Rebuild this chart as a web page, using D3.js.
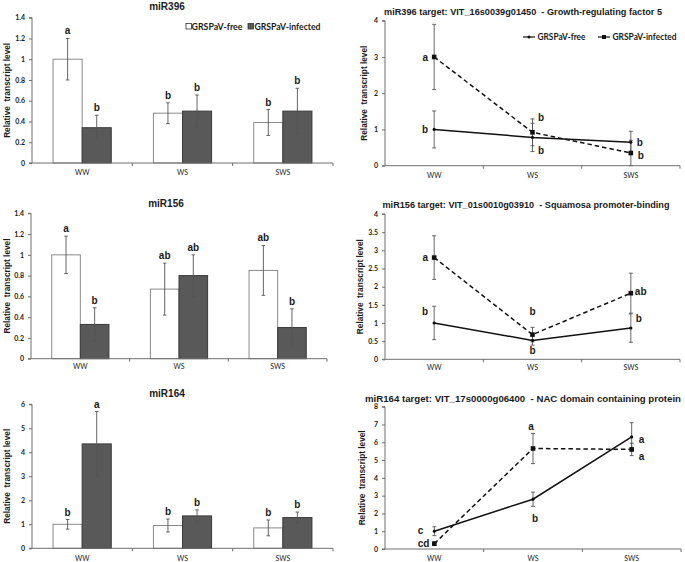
<!DOCTYPE html>
<html><head><meta charset="utf-8">
<script src="https://cdn.jsdelivr.net/npm/d3@7"></script>
<style>body{margin:0;background:#fff} svg{display:block}</style>
</head><body>
<svg id="c" width="685" height="562"></svg>
<script>
// ---------------- DATA ----------------
const categories = ["WW", "WS", "SWS"];
const seriesNames = ["GRSPaV-free", "GRSPaV-infected"];
const yAxisTitle = "Relative  transcript level";

// miR396 (bars)
const miR396Free = [1.00, 0.48, 0.39];
const miR396FreeErr = [0.20, 0.10, 0.125];
const miR396Infected = [0.34, 0.50, 0.50];
const miR396InfectedErr = [0.12, 0.155, 0.22];
const miR396FreeLetters = ["a", "b", "b"];
const miR396InfectedLetters = ["b", "b", "b"];
const miR396Ticks = [0, 0.2, 0.4, 0.6, 0.8, 1, 1.2, 1.4];

// miR156 (bars)
const miR156Free = [1.00, 0.67, 0.85];
const miR156FreeErr = [0.18, 0.25, 0.24];
const miR156Infected = [0.33, 0.80, 0.30];
const miR156InfectedErr = [0.16, 0.20, 0.18];
const miR156FreeLetters = ["a", "ab", "ab"];
const miR156InfectedLetters = ["b", "ab", "b"];
const miR156Ticks = [0, 0.2, 0.4, 0.6, 0.8, 1, 1.2, 1.4];

// miR164 (bars)
const miR164Free = [1.00, 0.95, 0.85];
const miR164FreeErr = [0.20, 0.27, 0.33];
const miR164Infected = [4.35, 1.35, 1.28];
const miR164InfectedErr = [1.35, 0.25, 0.23];
const miR164FreeLetters = ["b", "b", "b"];
const miR164InfectedLetters = ["a", "b", "b"];
const miR164Ticks = [0, 1, 2, 3, 4, 5, 6];

// miR396 target (lines)
const grf5Free = [1.00, 0.78, 0.65];
const grf5FreeErr = [0.51, 0.39, 0.30];
const grf5Infected = [3.00, 0.92, 0.35];
const grf5InfectedErr = [0.90, 0.37, 0.35];
const grf5FreeLetters = ["b", "b", "b"];
const grf5InfectedLetters = ["a", "b", "b"];
const grf5Ticks = [0, 1, 2, 3, 4];

// miR156 target (lines)
const sbpFree = [1.00, 0.52, 0.86];
const sbpFreeErr = [0.46, 0.13, 0.39];
const sbpInfected = [2.80, 0.68, 1.82];
const sbpInfectedErr = [0.60, 0.20, 0.55];
const sbpFreeLetters = ["b", "b", "b"];
const sbpInfectedLetters = ["a", "b", "ab"];
const sbpTicks = [0, 0.5, 1, 1.5, 2, 2.5, 3, 3.5, 4];

// miR164 target (lines)
const nacFree = [1.00, 2.80, 6.30];
const nacFreeErr = [0.25, 0.40, 0.80];
const nacInfected = [0.30, 5.65, 5.60];
const nacInfectedErr = [0.10, 0.85, 0.35];
const nacFreeLetters = ["c", "b", "a"];
const nacInfectedLetters = ["cd", "a", "a"];
const nacTicks = [0, 1, 2, 3, 4, 5, 6, 7, 8];

// ---------------- LAYOUT ----------------
// letter offsets (dx, dy, anchor) relative to the plotted point (line panels)
const grf5FreeLabelPos = [[-6, 0, "end"], [5.5, 12.6, "start"], [6, 0, "start"]];
const grf5InfLabelPos = [[-6, 0, "end"], [5.5, -15, "start"], [7, 2.7, "start"]];
const sbpFreeLabelPos = [[-6, -12, "end"], [0, 10, "middle"], [5, -10, "start"]];
const sbpInfLabelPos = [[-6, 0, "end"], [0, -23, "middle"], [4, -1.5, "start"]];
const nacFreeLabelPos = [[-11, -1, "end"], [2, 19, "middle"], [7, 2.5, "start"]];
const nacInfLabelPos = [[-5, 0, "end"], [-2, -22, "middle"], [7, 6.6, "start"]];

const svg = d3.select("#c");
const TXT = "#1a1a1a";
const AX = "#6e6e6e";
const FONT_T = "'Liberation Sans', Arial, sans-serif";
const FONT_S = "Lato, 'Open Sans', sans-serif";
const DARK = "#595959";

function axes(g, x, y, cfg) {
  const ya = d3.axisLeft(y).tickValues(cfg.ticks).tickSize(3).tickPadding(4)
    .tickFormat(d => String(d));
  const gy = g.append("g").attr("transform", `translate(${cfg.left},0)`).call(ya);
  gy.select(".domain").attr("stroke", AX).attr("d", `M-3,${cfg.bottom}H0V${cfg.top}H-3`);
  gy.selectAll(".tick line").attr("stroke", AX);
  gy.selectAll(".tick text").attr("fill", TXT).style("font-family", FONT_S)
    .style("font-size", "7px").style("font-weight", "700");

  const xa = d3.axisBottom(x).tickSize(0).tickPadding(cfg.xPad);
  const gx = g.append("g").attr("transform", `translate(0,${cfg.bottom})`).call(xa);
  gx.select(".domain").attr("stroke", AX).attr("d", `M${cfg.left},0H${cfg.right}`);
  gx.selectAll(".tick text").attr("fill", TXT).style("font-family", FONT_S)
    .style("font-size", "7px").style("font-weight", "400");
  const bounds = categories.slice(1).map(c => x(c)).concat([cfg.right]);
  gx.selectAll(".btick").data(bounds).join("line").attr("class", "btick")
    .attr("x1", d => d).attr("x2", d => d).attr("y1", 0).attr("y2", 3).attr("stroke", AX);

  g.append("text").attr("transform", `translate(${cfg.yTitleX},${(cfg.top + cfg.bottom) / 2}) rotate(-90)`)
    .attr("text-anchor", "middle").attr("fill", TXT)
    .attr("textLength", 95).attr("lengthAdjust", "spacingAndGlyphs")
    .style("font-family", FONT_T).style("font-size", "9px").style("font-weight", "700")
    .style("white-space", "pre")
    .text(yAxisTitle);
  const t = g.append("text").attr("x", cfg.titleX).attr("y", cfg.titleY).attr("text-anchor", "middle")
    .attr("fill", TXT).style("font-family", FONT_T).style("font-size", cfg.titleSize + "px")
    .style("font-weight", "700").style("white-space", "pre").text(cfg.title);
  if (cfg.titleLen) t.attr("textLength", cfg.titleLen).attr("lengthAdjust", "spacingAndGlyphs");
}

function errBar(g, xs, y, vals, errs, cap) {
  g.selectAll(null).data(vals).join("g").each(function (d, i) {
    const s = d3.select(this);
    const cx = xs[i];
    const lo = y(Math.max(0, d - errs[i])), hi = y(d + errs[i]);
    s.append("line").attr("x1", cx).attr("x2", cx).attr("y1", lo).attr("y2", hi).attr("stroke", "#555").attr("stroke-width", 0.9);
    s.append("line").attr("x1", cx - cap).attr("x2", cx + cap).attr("y1", hi).attr("y2", hi).attr("stroke", "#555").attr("stroke-width", 0.9);
    s.append("line").attr("x1", cx - cap).attr("x2", cx + cap).attr("y1", lo).attr("y2", lo).attr("stroke", "#555").attr("stroke-width", 0.9);
  });
}

function legendText(lg, x, y, txt, len) {
  lg.append("text").attr("x", x).attr("y", y).attr("fill", TXT)
    .attr("textLength", len).attr("lengthAdjust", "spacingAndGlyphs")
    .style("font-family", FONT_S).style("font-size", "9.5px").style("font-weight", "700")
    .text(txt);
}

function barPanel(cfg) {
  const g = svg.append("g");
  const x = d3.scaleBand().domain(categories).range([cfg.left, cfg.right]);
  const y = d3.scaleLinear().domain([0, cfg.ticks[cfg.ticks.length - 1]]).range([cfg.bottom, cfg.top]);
  const bw = x.bandwidth() * 0.29;
  const series = [
    { v: cfg.free, e: cfg.freeErr, l: cfg.freeLetters, off: -bw, fill: "#fff", stroke: "#8a8a8a" },
    { v: cfg.inf, e: cfg.infErr, l: cfg.infLetters, off: 0, fill: DARK, stroke: "#3a3a3a" }
  ];
  series.forEach(s => {
    g.selectAll(null).data(s.v).join("rect")
      .attr("x", (d, i) => x(categories[i]) + x.bandwidth() / 2 + s.off)
      .attr("y", d => y(d)).attr("width", bw).attr("height", d => cfg.bottom - y(d))
      .attr("fill", s.fill).attr("stroke", s.stroke).attr("stroke-width", 1);
  });
  series.forEach(s => {
    const xs = categories.map(c => x(c) + x.bandwidth() / 2 + s.off + bw / 2);
    errBar(g, xs, y, s.v, s.e, 1.8);
    g.selectAll(null).data(s.l).join("text")
      .attr("x", (d, i) => xs[i]).attr("y", (d, i) => y(s.v[i] + s.e[i]) - 4)
      .attr("text-anchor", "middle").attr("fill", TXT)
      .style("font-family", FONT_T).style("font-size", "10px").style("font-weight", "700")
      .text(d => d);
  });
  axes(g, x, y, cfg);
  if (cfg.legend) {
    const lg = g.append("g");
    const items = [{ fill: "#fff", x: 186, tx: 191.5, len: 51 }, { fill: DARK, x: 248, tx: 254.5, len: 66 }];
    items.forEach((it, i) => {
      lg.append("rect").attr("x", it.x).attr("y", 23.5).attr("width", 5.5).attr("height", 5.5)
        .attr("fill", it.fill).attr("stroke", "#333").attr("stroke-width", 0.8);
      legendText(lg, it.tx, 29.8, seriesNames[i], it.len);
    });
  }
}

function linePanel(cfg) {
  const g = svg.append("g");
  const x = d3.scaleBand().domain(categories).range([cfg.left, cfg.right]);
  const y = d3.scaleLinear().domain([0, cfg.ticks[cfg.ticks.length - 1]]).range([cfg.bottom, cfg.top]);
  const xs = categories.map(c => x(c) + x.bandwidth() / 2);
  const line = d3.line().x((d, i) => xs[i]).y(d => y(d));
  errBar(g, xs, y, cfg.free, cfg.freeErr, 2);
  errBar(g, xs, y, cfg.inf, cfg.infErr, 2);
  g.append("path").attr("d", line(cfg.inf)).attr("fill", "none").attr("stroke", "#111")
    .attr("stroke-width", 1.5).attr("stroke-dasharray", "4.5,3");
  g.append("path").attr("d", line(cfg.free)).attr("fill", "none").attr("stroke", "#111")
    .attr("stroke-width", 1.5);
  g.selectAll(null).data(cfg.free).join("circle").attr("cx", (d, i) => xs[i]).attr("cy", d => y(d))
    .attr("r", 1.6).attr("fill", "#111");
  g.selectAll(null).data(cfg.inf).join("rect").attr("x", (d, i) => xs[i] - 2.3).attr("y", d => y(d) - 2.3)
    .attr("width", 4.6).attr("height", 4.6).attr("fill", "#111");
  const lab = (vals, letters, pos) => {
    g.selectAll(null).data(letters).join("text")
      .attr("x", (d, i) => xs[i] + pos[i][0]).attr("y", (d, i) => y(vals[i]) + pos[i][1] + 3.6)
      .attr("text-anchor", (d, i) => pos[i][2]).attr("fill", TXT)
      .style("font-family", FONT_T).style("font-size", "10px").style("font-weight", "700")
      .text(d => d);
  };
  lab(cfg.free, cfg.freeLetters, cfg.freePos);
  lab(cfg.inf, cfg.infLetters, cfg.infPos);
  axes(g, x, y, cfg);
  if (cfg.legend) {
    const lg = g.append("g");
    const ly = 37;
    lg.append("line").attr("x1", 523).attr("x2", 535).attr("y1", ly).attr("y2", ly).attr("stroke", "#111").attr("stroke-width", 1.2);
    lg.append("circle").attr("cx", 529).attr("cy", ly).attr("r", 1.5).attr("fill", "#111");
    legendText(lg, 537.5, ly + 3.2, seriesNames[0], 48);
    lg.append("line").attr("x1", 598).attr("x2", 610).attr("y1", ly).attr("y2", ly).attr("stroke", "#111").attr("stroke-width", 1.2);
    lg.append("rect").attr("x", 602).attr("y", ly - 2).attr("width", 4).attr("height", 4).attr("fill", "#111");
    legendText(lg, 612.5, ly + 3.2, seriesNames[1], 64);
  }
}

barPanel({ left: 32, right: 333, top: 17.7, bottom: 163, ticks: miR396Ticks, xPad: 7.5,
  free: miR396Free, freeErr: miR396FreeErr, inf: miR396Infected, infErr: miR396InfectedErr,
  freeLetters: miR396FreeLetters, infLetters: miR396InfectedLetters,
  title: "miR396", titleX: 167, titleY: 9.5, titleSize: 10, yTitleX: 9.5, legend: true });
barPanel({ left: 31, right: 327, top: 213.3, bottom: 358.7, ticks: miR156Ticks, xPad: 5.5,
  free: miR156Free, freeErr: miR156FreeErr, inf: miR156Infected, infErr: miR156InfectedErr,
  freeLetters: miR156FreeLetters, infLetters: miR156InfectedLetters,
  title: "miR156", titleX: 166, titleY: 206.5, titleSize: 10, yTitleX: 9.5 });
barPanel({ left: 32, right: 333, top: 404.3, bottom: 548.3, ticks: miR164Ticks, xPad: 8,
  free: miR164Free, freeErr: miR164FreeErr, inf: miR164Infected, infErr: miR164InfectedErr,
  freeLetters: miR164FreeLetters, infLetters: miR164InfectedLetters,
  title: "miR164", titleX: 167, titleY: 396.5, titleSize: 10, yTitleX: 9.5 });

linePanel({ left: 385, right: 680, top: 20.7, bottom: 165.7, ticks: grf5Ticks, xPad: 7.5,
  free: grf5Free, freeErr: grf5FreeErr, inf: grf5Infected, infErr: grf5InfectedErr,
  freeLetters: grf5FreeLetters, infLetters: grf5InfectedLetters,
  freePos: grf5FreeLabelPos, infPos: grf5InfLabelPos,
  title: "miR396 target: VIT_16s0039g01450  - Growth-regulating factor 5", titleX: 523, titleY: 14.5, titleSize: 9.5, titleLen: 278,
  yTitleX: 367, legend: true });
linePanel({ left: 385, right: 680, top: 214, bottom: 359.3, ticks: sbpTicks, xPad: 6,
  free: sbpFree, freeErr: sbpFreeErr, inf: sbpInfected, infErr: sbpInfectedErr,
  freeLetters: sbpFreeLetters, infLetters: sbpInfectedLetters,
  freePos: sbpFreeLabelPos, infPos: sbpInfLabelPos,
  title: "miR156 target: VIT_01s0010g03910  - Squamosa promoter-binding", titleX: 526, titleY: 208, titleSize: 9.5, titleLen: 287,
  yTitleX: 362.5 });
linePanel({ left: 385, right: 681, top: 406.7, bottom: 549, ticks: nacTicks, xPad: 7,
  free: nacFree, freeErr: nacFreeErr, inf: nacInfected, infErr: nacInfectedErr,
  freeLetters: nacFreeLetters, infLetters: nacInfectedLetters,
  freePos: nacFreeLabelPos, infPos: nacInfLabelPos,
  title: "miR164 target: VIT_17s0000g06400  - NAC domain containing protein", titleX: 523, titleY: 401.5, titleSize: 9.5, titleLen: 316,
  yTitleX: 364.5 });
</script>
</body></html>
